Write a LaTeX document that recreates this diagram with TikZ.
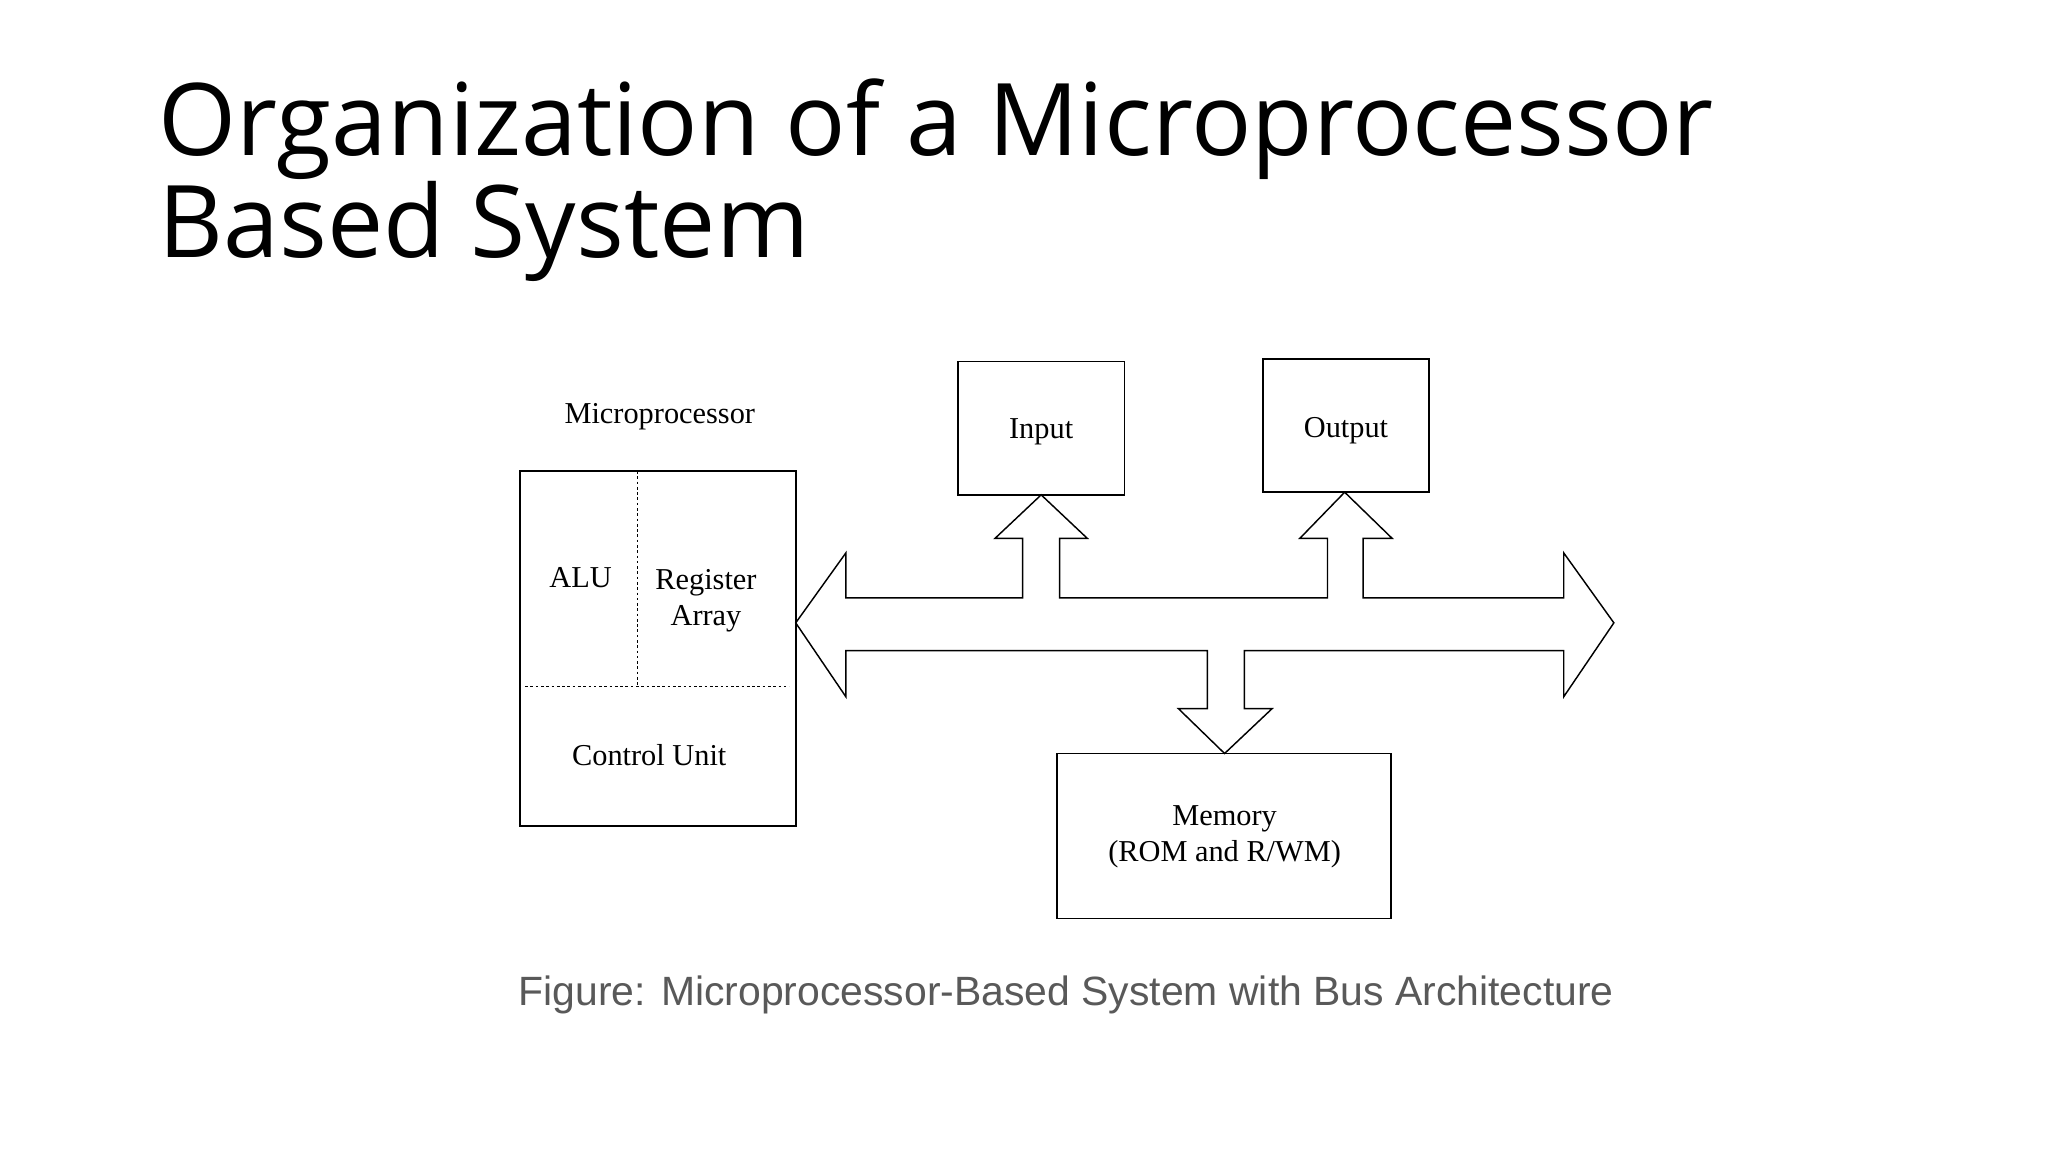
\documentclass[tikz,border=0pt]{standalone}
\usepackage{fontspec}
\setmainfont{Liberation Serif}
\newfontfamily\titlefont{Open Sans}
\newfontfamily\capfont{Liberation Sans}
\begin{document}
\begin{tikzpicture}[x=1pt,y=-1pt,
  box/.style={draw,line width=1.3pt},
  lbl/.style={font=\fontsize{23}{27}\selectfont,inner sep=0pt},
  dsh/.style={dashed,line width=0.6pt,dash pattern=on 2pt off 2pt}]
\useasboundingbox[fill=white] (0,0) rectangle (1552,873);
\node[anchor=base west,inner sep=0pt,font=\titlefont\fontsize{76}{80}\selectfont] (t1) at (120,118) {Organization of a Microprocessor};
\node[anchor=base west,inner sep=0pt,font=\titlefont\fontsize{76}{80}\selectfont] (t2) at (120,195) {Based System};
\node[lbl] (mpl) at (500,316) {Microprocessor};
\draw[box] (394,357) rectangle (603,626);
\draw[dsh] (483,357) -- (483,520);
\draw[dsh] (398,520) -- (598,520);
\node[lbl] (alu) at (440,438) {ALU};
\node[lbl,align=center] (reg) at (535,455) {Register\\Array};
\node[lbl] (cu) at (492,572) {Control Unit};
\draw[box,line width=1.1pt] (726,274) rectangle (852,375);
\node[lbl] (in) at (789,327) {Input};
\draw[box,line width=1.1pt] (957,272) rectangle (1083,373);
\node[lbl] (out) at (1020,326) {Output};
\draw[box,line width=1.1pt] (801,571) rectangle (1054,696);
\node[lbl,align=center] (mem) at (928,634) {Memory\\(ROM and R/WM)};
\draw[line width=1.1pt,line join=miter]
 (603,472) -- (641,419) -- (641,453) -- (775,453) -- (775,408) -- (754,408) -- (789,375)
 -- (824,408) -- (803,408) -- (803,453) -- (1006,453) -- (1006,408) -- (985,408) -- (1019,373)
 -- (1055,408) -- (1033,408) -- (1033,453) -- (1185,453) -- (1185,419) -- (1223,472)
 -- (1185,528) -- (1185,493) -- (943,493) -- (943,537) -- (964,537) -- (928,571)
 -- (893,537) -- (915,537) -- (915,493) -- (641,493) -- (641,528) -- cycle;
\node[inner sep=0pt,text=black!65,font=\capfont\fontsize{31}{35}\selectfont] (cap) at (808,754) {Figure: Microprocessor-Based System with Bus Architecture};
\end{tikzpicture}
\end{document}
